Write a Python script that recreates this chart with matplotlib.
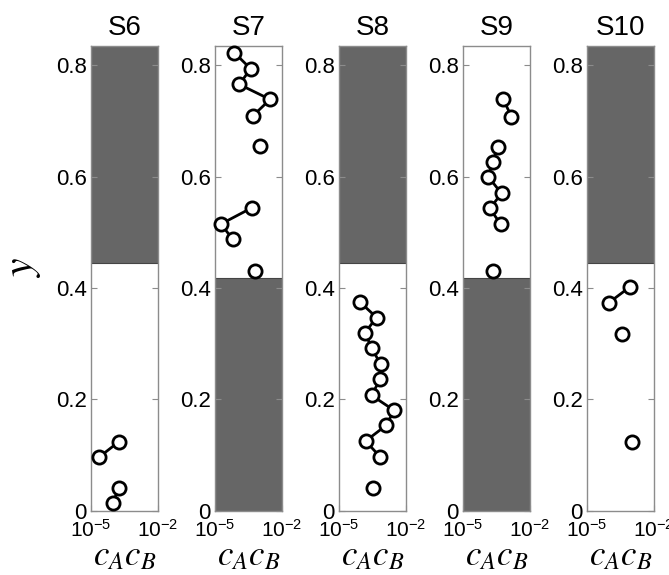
import matplotlib
matplotlib.use('Agg')
import matplotlib.pyplot as plt

plt.rcParams['font.family'] = ['Liberation Sans', 'DejaVu Sans']
plt.rcParams['mathtext.fontset'] = 'custom'
plt.rcParams['mathtext.rm'] = 'Liberation Sans'
plt.rcParams['mathtext.it'] = 'Liberation Sans:italic'

titles = ['S6', 'S7', 'S8', 'S9', 'S10']

# shaded (forbidden) band per panel
shade_lo = [0.445, 0.0, 0.445, 0.0, 0.445]
shade_hi = [0.835, 0.418, 0.835, 0.418, 0.835]

# each inner list is one connected track of (cA*cB, y) points
s6_x = [[2.3e-5, 1.8e-4], [1.8e-4, 9.3e-5]]
s6_y = [[0.096, 0.124], [0.041, 0.013]]

s7_x = [[7.4e-5, 4.0e-4, 1.23e-4, 2.95e-3, 5.2e-4], [1.05e-3],
        [4.4e-4, 1.86e-5, 6.2e-5], [6.2e-4]]
s7_y = [[0.823, 0.794, 0.766, 0.739, 0.710], [0.655],
        [0.544, 0.515, 0.488], [0.431]]

s8_x = [[8.7e-5, 4.9e-4, 1.48e-4, 2.95e-4, 7.4e-4, 6.9e-4, 2.95e-4,
         3.0e-3, 1.29e-3, 1.58e-4, 6.9e-4], [3.5e-4]]
s8_y = [[0.375, 0.347, 0.320, 0.292, 0.263, 0.236, 0.207,
         0.180, 0.153, 0.125, 0.097], [0.041]]

s9_x = [[6.5e-4, 1.51e-3], [3.8e-4, 2.14e-4, 1.38e-4, 5.4e-4, 1.62e-4, 4.9e-4],
        [2.3e-4]]
s9_y = [[0.739, 0.708], [0.654, 0.627, 0.600, 0.570, 0.543, 0.515], [0.431]]

s10_x = [[1.0e-4, 8.5e-4], [3.6e-4], [1.07e-3]]
s10_y = [[0.374, 0.402], [0.318], [0.123]]

xs = [s6_x, s7_x, s8_x, s9_x, s10_x]
ys = [s6_y, s7_y, s8_y, s9_y, s10_y]

fig = plt.figure(figsize=(6.69, 5.75), dpi=100)
axis_grey = '#8c8c8c'

for i in range(len(titles)):
    left = 0.136 + i * 0.1853
    ax = fig.add_axes([left, 0.112, 0.1, 0.808])
    ax.set_xscale('log')
    ax.set_xlim(1e-5, 1e-2)
    ax.set_ylim(0, 0.835)
    ax.axhspan(shade_lo[i], shade_hi[i], color='#666666', zorder=0, lw=0)
    ax.axhline(shade_lo[i] if shade_lo[i] > 0 else shade_hi[i],
               color='#444444', lw=0.8, zorder=1)

    for tx, ty in zip(xs[i], ys[i]):
        ax.plot(tx, ty, color='black', lw=2, marker='o', markersize=9.5,
                markerfacecolor='white', markeredgecolor='black',
                markeredgewidth=2, zorder=3, clip_on=False)

    ax.set_xticks([1e-5, 1e-2])
    ax.set_xticklabels([r'$\mathregular{10^{-5}}$', r'$\mathregular{10^{-2}}$'])
    ax.xaxis.set_minor_locator(matplotlib.ticker.NullLocator())
    ax.set_yticks([0, 0.2, 0.4, 0.6, 0.8])
    ax.set_yticklabels(['0', '0.2', '0.4', '0.6', '0.8'])
    ax.tick_params(direction='in', length=4, width=0.8, color=axis_grey,
                   labelsize=16, right=True, pad=3)
    ax.tick_params(axis='x', pad=6, labelsize=15)
    for sp in ax.spines.values():
        sp.set_color(axis_grey)
        sp.set_linewidth(1.0)

    ax.set_title(titles[i], fontsize=20, pad=8)
    ax.set_xlabel(r'$c_A c_B$', fontsize=25, math_fontfamily='stix',
                  va='center')
    ax.xaxis.set_label_coords(0.5, -0.097)

fig.text(0.035, 0.535, r'$y$', fontsize=30, rotation=90, va='center',
         ha='center', math_fontfamily='stix')

plt.savefig('out.png', dpi=100)
